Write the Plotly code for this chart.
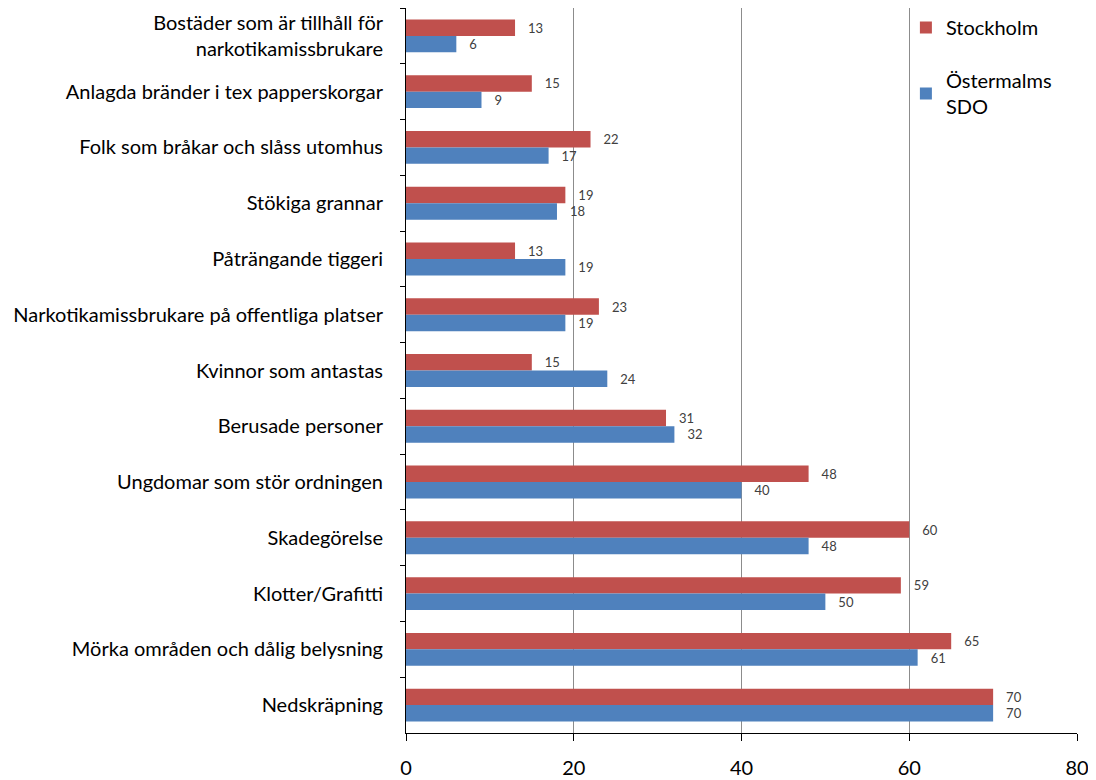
import plotly.graph_objects as go

categories = [
    "Bostäder som är tillhåll för<br>narkotikamissbrukare",
    "Anlagda bränder i tex papperskorgar",
    "Folk som bråkar och slåss utomhus",
    "Stökiga grannar",
    "Påträngande tiggeri",
    "Narkotikamissbrukare på offentliga platser",
    "Kvinnor som antastas",
    "Berusade personer",
    "Ungdomar som stör ordningen",
    "Skadegörelse",
    "Klotter/Grafitti",
    "Mörka områden och dålig belysning",
    "Nedskräpning",
]
stockholm = [13, 15, 22, 19, 13, 23, 15, 31, 48, 60, 59, 65, 70]
ostermalm = [6, 9, 17, 18, 19, 19, 24, 32, 40, 48, 50, 61, 70]
x_ticks = [0, 20, 40, 60, 80]

FONT = "Lato, Carlito, Calibri, sans-serif"

fig = go.Figure()
fig.add_trace(go.Bar(
    y=categories, x=stockholm, orientation="h", name="Stockholm",
    marker=dict(color="#C0504D", line=dict(width=0)),
    text=stockholm, texttemplate="   %{x}", textposition="outside",
    textfont=dict(size=13, color="#404040", family=FONT),
    constraintext="none", cliponaxis=False, legendgroup="a",
))
fig.add_trace(go.Bar(
    y=categories, x=ostermalm, orientation="h", name="Östermalms<br>SDO",
    marker=dict(color="#4F81BD", line=dict(width=0)),
    text=ostermalm, texttemplate="   %{x}", textposition="outside",
    textfont=dict(size=13, color="#404040", family=FONT),
    constraintext="none", cliponaxis=False, legendgroup="b",
))

fig.update_layout(
    width=1088, height=772,
    margin=dict(l=398, r=19, t=0, b=47),
    barmode="group", bargap=0.41, bargroupgap=0,
    plot_bgcolor="white", paper_bgcolor="white",
    font=dict(family=FONT, color="black", size=20),
    legend=dict(x=0.745, y=1.0, xanchor="left", yanchor="top",
                font=dict(size=20, family=FONT), tracegroupgap=24,
                bgcolor="rgba(255,255,255,0)", itemwidth=30),
    xaxis=dict(range=[0, 80], tickvals=x_ticks, showgrid=True,
               gridcolor="#8C8C8C", gridwidth=1, zeroline=False,
               showline=True, linecolor="black", linewidth=1,
               ticks="outside", ticklen=7, tickcolor="black",
               ticklabelstandoff=10, tickfont=dict(size=20),
               automargin=False),
    yaxis=dict(autorange="reversed", showline=True, linecolor="black",
               linewidth=1, ticks="outside", ticklen=5, tickcolor="black",
               tickson="boundaries", showgrid=False,
               ticklabelstandoff=18, tickfont=dict(size=20),
               automargin=False),
)

fig.write_html("out.html")
